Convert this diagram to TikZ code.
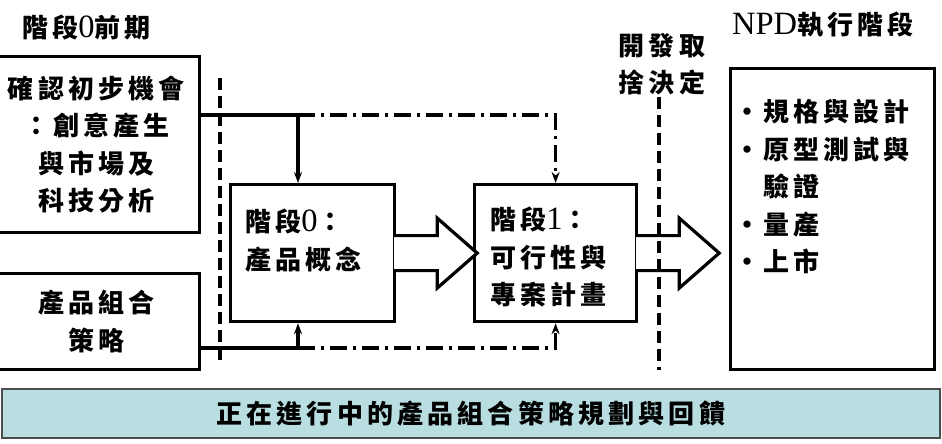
\documentclass[tikz,border=0pt]{standalone}
\usepackage{fontspec}
\setmainfont{Noto Sans CJK TC}[LetterSpace=16]
\newfontfamily\latin{Liberation Serif}[Scale=1.25]
\usepackage{xcolor}
\usetikzlibrary{arrows.meta,positioning,calc}
\definecolor{bandcol}{RGB}{185,222,225}
\newcommand{\itm}{\makebox[29pt][l]{・}}
\newcommand{\lt}[1]{{\latin\mdseries #1}}

\begin{document}
\begin{tikzpicture}[x=1pt,y=-1pt,
  box/.style={draw, line width=3.2pt, inner sep=0pt},
  txt/.style={font=\fontsize{26}{37.5}\selectfont\bfseries, inner sep=0pt},
  flow/.style={line width=3.5pt},
  dashdot/.style={line width=3.5pt, dash pattern=on 17pt off 6pt on 3pt off 6pt},
  gate/.style={line width=3.5pt, dash pattern=on 12pt off 6pt},
  fat/.style={line width=3.2pt, fill=white, line join=miter},
  arr/.style={-{Stealth[length=11pt,width=8pt]}}]
\useasboundingbox (0,0) rectangle (942,444);
% Titles over the two phases
\node[txt, anchor=west] (pre) at (22,27) {階段\lt{0}前期};
\node[txt, anchor=west] (npdt) at (732,25) {\lt{NPD}執行階段};
% Inputs on the left (left edges cut off by the page)
\node[box, txt, align=center, minimum width=206, minimum height=176, anchor=north east] (opp) at (201,55)
  {確認初步機會\\：創意產生\\與市場及\\科技分析};
\node[box, txt, align=center, minimum width=206, minimum height=96, anchor=north east] (pfs) at (201,272)
  {產品組合\\策略};
% Stage 0 and stage 1
\node[box, minimum width=164, minimum height=137, anchor=north west] (s0) at (229,183) {};
\node[txt, align=left, anchor=north west] (s0t) at ([shift={(16,26)}]s0.north west) {階段\lt{0}：\\產品概念};
\node[box, minimum width=162, minimum height=137, anchor=north west] (s1) at (473,183) {};
\node[txt, align=left, anchor=north west] (s1t) at ([shift={(17,24)}]s1.north west) {階段\lt{1}：\\可行性與\\專案計畫};
% NPD execution box
\node[box, minimum width=204, minimum height=301, anchor=north west] (npd) at (729,67) {};
\node[txt, align=left, anchor=north west] (npdl) at (734,99)
  {\itm 規格與設計\\\itm 原型測試與\\\hspace*{29pt}驗證\\\itm 量產\\\itm 上市};
% Go/kill decision label
\node[txt, align=center] (dec) at (662,64) {開發取\\捨決定};
% Feed lines into the stages
\coordinate (tj) at (298,115);
\coordinate (bj) at (298,348);
\draw[flow, arr] (tj -| opp.east) -| (s0.north -| tj);
\draw[dashdot, arr] (tj) -| (s1.north);
\draw[flow, arr] (bj -| pfs.east) -| (s0.south -| bj);
\draw[dashdot, arr] (bj) -| (s1.south);
% Block arrows s0 -> s1 -> npd
\foreach \n in {s0,s1}
  \draw[fat] ([xshift=-2pt]\n.east) ++(0,-17.5) -- ++(43,0) -- ++(0,-17.5) -- ++(40,35) -- ++(-40,35) -- ++(0,-17.5) -- ++(-43,0);
% Phase separators
\draw[gate] (220,78) -- (220,362);
\draw[gate] (659,97) -- (659,370);
% Ongoing portfolio band
\node[txt, draw=black!70, line width=1.5pt, fill=bandcol, minimum width=938, minimum height=49, anchor=north west] (band) at (1,388)
  {正在進行中的產品組合策略規劃與回饋};
\end{tikzpicture}
\end{document}
